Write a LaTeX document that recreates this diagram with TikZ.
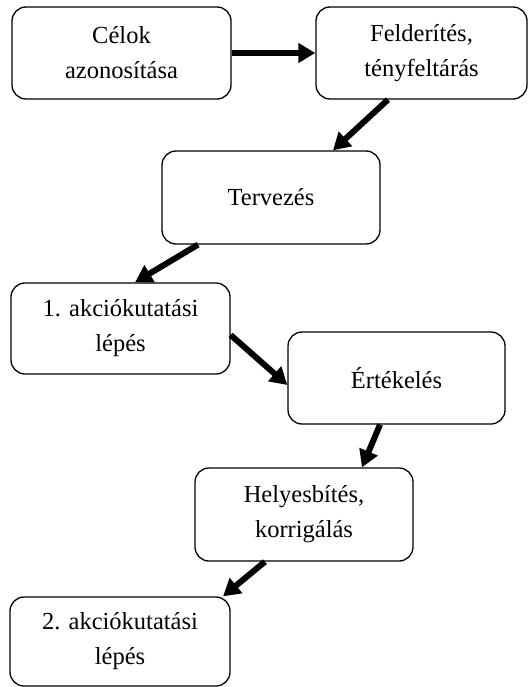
\documentclass[tikz,border=0pt]{standalone}
\usepackage{fontspec}
\setmainfont{Liberation Serif}
\usetikzlibrary{arrows.meta}
\begin{document}
\begin{tikzpicture}[x=1pt,y=-1pt,
  box/.style={draw, line width=1.3pt, rounded corners=14pt, align=center,
    inner sep=0pt, font=\fontsize{24.5}{35}\selectfont},
  conn/.style={line width=6pt, -{Triangle[length=17pt,width=19pt]}}]
\useasboundingbox (0,0) rectangle (529,687);
\node[box, minimum width=219pt, minimum height=92pt] (b1) at (121.5,53) {Célok\\azonosítása};
\node[box, minimum width=211pt, minimum height=92pt] (b2) at (421.5,53) {Felderítés,\\tényfeltárás};
\node[box, minimum width=218pt, minimum height=93pt] (b3) at (271,197.5) {Tervezés};
\node[box, minimum width=219pt, minimum height=91pt] (b4) at (120.5,328.5) {1. akciókutatási\\lépés};
\node[box, minimum width=217pt, minimum height=92pt] (b5) at (396.5,378) {Értékelés};
\node[box, minimum width=218pt, minimum height=93pt] (b6) at (304,514.5) {Helyesbítés,\\korrigálás};
\node[box, minimum width=220pt, minimum height=89pt] (b7) at (120,641.5) {2. akciókutatási\\lépés};
\draw[conn] (b1.east) -- (b2.west);
\draw[conn] ([xshift=-33.5pt]b2.south) -- ([xshift=62pt]b3.north);
\draw[conn] ([xshift=-73pt]b3.south) -- ([xshift=14.5pt]b4.north);
\draw[conn] ([yshift=-6.5pt]b4.east) -- ([yshift=-7pt]b5.west);
\draw[conn] ([xshift=-16.5pt]b5.south) -- ([xshift=58pt]b6.north);
\draw[conn] ([xshift=-39pt]b6.south) -- ([xshift=103pt]b7.north);
\end{tikzpicture}
\end{document}
